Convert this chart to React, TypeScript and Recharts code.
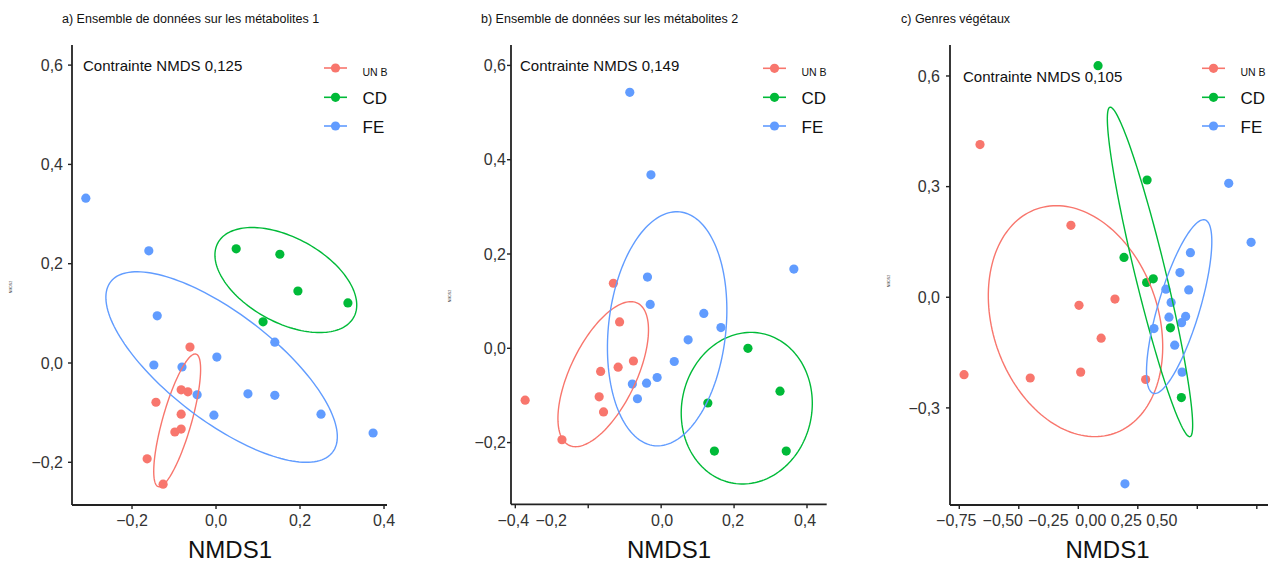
import React from 'react';
import { ScatterChart, Scatter, XAxis, YAxis } from 'recharts';

const FONT = '"Liberation Sans", Arial, Helvetica, sans-serif';
const RED = '#F8766D';
const GREEN = '#00BA38';
const BLUE = '#619CFF';
const AXIS = '#222222';

const groupNames = ['UN B', 'CD', 'FE'];
const groupColors = [RED, GREEN, BLUE];

// ---- Panel a: métabolites 1 ----
const aUNB = [[-0.062, 0.032], [-0.083, -0.054], [-0.067, -0.058], [-0.143, -0.079], [-0.083, -0.103], [-0.098, -0.139], [-0.083, -0.133], [-0.164, -0.193], [-0.126, -0.244]];
const aCD = [[0.048, 0.23], [0.152, 0.219], [0.195, 0.145], [0.314, 0.121], [0.112, 0.083]];
const aFE = [[-0.31, 0.332], [-0.16, 0.226], [-0.14, 0.095], [-0.148, -0.004], [-0.081, -0.008], [0.002, 0.012], [-0.045, -0.064], [-0.005, -0.105], [0.076, -0.062], [0.14, 0.042], [0.14, -0.065], [0.25, -0.103], [0.374, -0.141]];
// ellipse: [tip1 x, tip1 y, tip2 x, tip2 y, minor/major ratio]
const aEllUNB = [-0.0476, 0.018, -0.1374, -0.249, 0.21];
const aEllCD = [0.0045, 0.242, 0.328, 0.0922, 0.546];
const aEllFE = [-0.251, 0.1635, 0.2776, -0.1797, 0.384];
const aXTicks = [-0.2, 0, 0.2, 0.4];
const aYTicks = [-0.2, 0, 0.2, 0.4, 0.6];

// ---- Panel b: métabolites 2 ----
const bUNB = [[-0.131, 0.138], [-0.114, 0.056], [-0.076, -0.027], [-0.118, -0.04], [-0.166, -0.049], [-0.17, -0.103], [-0.158, -0.135], [-0.373, -0.11], [-0.272, -0.194]];
const bCD = [[0.238, 0.0], [0.326, -0.091], [0.128, -0.116], [0.146, -0.218], [0.343, -0.218]];
const bFE = [[-0.086, 0.543], [-0.028, 0.368], [0.364, 0.168], [-0.0375, 0.151], [-0.03, 0.093], [0.117, 0.074], [0.164, 0.044], [0.074, 0.018], [0.036, -0.028], [-0.011, -0.062], [-0.04, -0.074], [-0.079, -0.076], [-0.065, -0.107]];
const bEllUNB = [-0.0652, 0.0959, -0.2526, -0.2057, 0.418];
const bEllCD = [0.2778, 0.0312, 0.1918, -0.2853, 0.853];
const bEllFE = [0.0515, 0.2893, -0.0186, -0.2066, 0.499];
const bXTicks = [-0.4, -0.2, 0, 0.2, 0.4];
const bYTicks = [-0.2, 0, 0.2, 0.4, 0.6];

// ---- Panel c: genres végétaux ----
const cUNB = [[-0.663, 0.414], [-0.281, 0.195], [-0.247, -0.022], [-0.096, -0.005], [-0.154, -0.111], [-0.73, -0.21], [-0.452, -0.219], [-0.24, -0.203], [0.033, -0.223]];
const cCD = [[-0.167, 0.628], [0.039, 0.318], [-0.058, 0.108], [0.037, 0.04], [0.065, 0.05], [0.137, -0.083], [0.183, -0.272]];
const cFE = [[0.382, 0.309], [0.476, 0.149], [0.221, 0.121], [0.177, 0.067], [0.118, 0.022], [0.214, 0.02], [0.14, -0.014], [0.131, -0.054], [0.201, -0.052], [0.184, -0.069], [0.068, -0.085], [0.155, -0.13], [0.186, -0.203], [-0.054, -0.506]];
const cEllUNB = [-0.423, 0.2398, -0.1004, -0.3694, 0.697];
const cEllCD = [-0.1168, 0.5153, 0.2193, -0.378, 0.09];
const cEllFE = [0.2824, 0.2097, 0.0651, -0.2604, 0.23];
const cXTicks = [-0.75, -0.5, -0.25, 0, 0.25, 0.5];
const cYTicks = [-0.3, 0, 0.3, 0.6];

const titles = ['a) Ensemble de données sur les métabolites 1', 'b) Ensemble de données sur les métabolites 2', 'c) Genres végétaux'];
const stressLabels = ['Contrainte NMDS 0,125', 'Contrainte NMDS 0,149', 'Contrainte NMDS 0,105'];

const fmt = (digits: number) => (v: number) => {
  const s = Math.abs(v).toFixed(digits).replace('.', ',');
  return v < -1e-9 ? '\u2212' + s : s;
};

type Panel = {
  left: number; right: number; top: number; bottom: number; marginRight: number;
  xDomain: [number, number]; yDomain: [number, number];
  xTicks: number[]; yTicks: number[]; xDigits: number; yDigits: number;
  xShift: number[]; yTickMargin: number;
  groups: number[][][]; ellipses: number[][];
  title: string; titleX: number; stress: string; stressX: number; stressY: number;
  legendLineX: number; legendTextX: number; legendDotY: number[];
  xLabelX: number; yLabelY: number;
};

const panels: Panel[] = [
  {
    left: 72, right: 387, top: 45, bottom: 505, marginRight: 30,
    xDomain: [-0.3429, 0.4071], yDomain: [-0.286, 0.6405],
    xTicks: aXTicks, yTicks: aYTicks, xDigits: 1, yDigits: 1,
    xShift: [0, 0, 0, 0], yTickMargin: 5,
    groups: [aUNB, aCD, aFE], ellipses: [aEllUNB, aEllCD, aEllFE],
    title: titles[0], titleX: 62, stress: stressLabels[0], stressX: 83, stressY: 70.5,
    legendLineX: 324, legendTextX: 362.5, legendDotY: [68, 97.3, 126],
    xLabelX: 230, yLabelY: 287,
  },
  {
    left: 511, right: 826.7, top: 45, bottom: 504.3, marginRight: 20,
    xDomain: [-0.4118, 0.454], yDomain: [-0.3309, 0.6433],
    xTicks: bXTicks, yTicks: bYTicks, xDigits: 1, yDigits: 1,
    xShift: [-2, -37, 1, -1, -2], yTickMargin: 1,
    groups: [bUNB, bCD, bFE], ellipses: [bEllUNB, bEllCD, bEllFE],
    title: titles[1], titleX: 481, stress: stressLabels[1], stressX: 520, stressY: 70.5,
    legendLineX: 763, legendTextX: 801.5, legendDotY: [68.3, 97.3, 126],
    xLabelX: 669, yLabelY: 296,
  },
  {
    left: 950, right: 1268, top: 45, bottom: 505, marginRight: 1,
    xDomain: [-0.789, 0.547], yDomain: [-0.5633, 0.684],
    xTicks: cXTicks, yTicks: cYTicks, xDigits: 2, yDigits: 1,
    xShift: [-3, -16, -30, -47, -71, -95], yTickMargin: 6,
    groups: [cUNB, cCD, cFE], ellipses: [cEllUNB, cEllCD, cEllFE],
    title: titles[2], titleX: 901, stress: stressLabels[2], stressX: 963, stressY: 81.5,
    legendLineX: 1202, legendTextX: 1240.5, legendDotY: [68.3, 97.3, 126],
    xLabelX: 1107.5, yLabelY: 281,
  },
];

const Y_AXIS_W = 72;
const H = 562;

function ellipsePoints(e: number[], sx: number, sy: number) {
  const [x1, y1, x2, y2, r] = e;
  const X1 = x1 * sx, Y1 = y1 * sy, X2 = x2 * sx, Y2 = y2 * sy;
  const cX = (X1 + X2) / 2, cY = (Y1 + Y2) / 2;
  const ax = (X2 - X1) / 2, ay = (Y2 - Y1) / 2;
  const bx = -ay * r, by = ax * r;
  const pts: { x: number; y: number }[] = [];
  const n = 160;
  for (let i = 0; i <= n; i++) {
    const t = (2 * Math.PI * i) / n;
    const X = cX + ax * Math.cos(t) + bx * Math.sin(t);
    const Y = cY + ay * Math.cos(t) + by * Math.sin(t);
    pts.push({ x: X / sx, y: Y / sy });
  }
  return pts;
}

const Dot = (color: string) => (p: any) => <circle cx={p.cx} cy={p.cy} r={4.6} fill={color} />;
const NoShape = () => <g />;

function PanelChart({ p }: { p: Panel }) {
  const plotW = p.right - p.left;
  const plotH = p.bottom - p.top;
  const sx = plotW / (p.xDomain[1] - p.xDomain[0]);
  const sy = plotH / (p.yDomain[1] - p.yDomain[0]);
  const fx = fmt(p.xDigits);
  const fy = fmt(p.yDigits);
  const XTick = (props: any) => {
    const { x, y, payload, index } = props;
    return (
      <text x={x + (p.xShift[index] || 0)} y={y} dy="0.71em" textAnchor="middle" fontSize={16} fill="#333" fontFamily={FONT}>
        {fx(payload.value)}
      </text>
    );
  };
  const YTick = (props: any) => {
    const { x, y, payload } = props;
    return (
      <text x={x} y={y} dy="0.36em" textAnchor="end" fontSize={16} fill="#333" fontFamily={FONT}>
        {fy(payload.value)}
      </text>
    );
  };
  return (
    <div style={{ position: 'absolute', left: p.left - Y_AXIS_W, top: 0 }}>
      <ScatterChart width={Y_AXIS_W + plotW + p.marginRight} height={H} margin={{ top: p.top, right: p.marginRight, bottom: 0, left: 0 }}>
        <XAxis type="number" dataKey="x" domain={p.xDomain} ticks={p.xTicks} allowDataOverflow
          height={H - p.bottom} tickSize={4} tickMargin={6} tick={XTick as any}
          axisLine={{ stroke: AXIS, strokeWidth: 1.8 }} tickLine={{ stroke: AXIS, strokeWidth: 1.4 }} interval={0} />
        <YAxis type="number" dataKey="y" domain={p.yDomain} ticks={p.yTicks} allowDataOverflow
          width={Y_AXIS_W} tickSize={4} tickMargin={p.yTickMargin} tick={YTick as any}
          axisLine={{ stroke: AXIS, strokeWidth: 1.8 }} tickLine={{ stroke: AXIS, strokeWidth: 1.4 }} interval={0} />
        {p.groups.map((g, gi) => (
          <Scatter key={'pts' + gi} data={g.map(([x, y]) => ({ x, y }))} shape={Dot(groupColors[gi])} isAnimationActive={false} />
        ))}
        {p.ellipses.map((e, gi) => (
          <Scatter key={'ell' + gi} data={ellipsePoints(e, sx, sy)} shape={NoShape} line={{ stroke: groupColors[gi], strokeWidth: 1.4 }} lineType="joint" isAnimationActive={false} />
        ))}
      </ScatterChart>
    </div>
  );
}

function Overlay() {
  return (
    <svg width={1269} height={562} style={{ position: 'absolute', left: 0, top: 0, pointerEvents: 'none' }} fontFamily={FONT}>
      {panels.map((p, pi) => (
        <g key={pi}>
          <text x={p.titleX} y={23} fontSize={12.5} fill="#111">{p.title}</text>
          <text x={p.stressX} y={p.stressY} fontSize={15} fill="#111">{p.stress}</text>
          {groupNames.map((name, gi) => (
            <g key={gi}>
              <line x1={p.legendLineX} x2={p.legendLineX + 23} y1={p.legendDotY[gi]} y2={p.legendDotY[gi]} stroke={groupColors[gi]} strokeWidth={1.6} />
              <circle cx={p.legendLineX + 11.5} cy={p.legendDotY[gi]} r={4.6} fill={groupColors[gi]} />
              <text x={p.legendTextX} y={gi === 0 ? p.legendDotY[gi] + 7.5 : p.legendDotY[gi] + 6.5} fontSize={gi === 0 ? 10.5 : 17} fill="#111">{name}</text>
            </g>
          ))}
          <text x={p.xLabelX} y={558} fontSize={24} fill="#111" textAnchor="middle">NMDS1</text>
          <text transform={`translate(${p.left - 60},${p.yLabelY}) rotate(-90)`} fontSize={3.5} fill="#333" textAnchor="middle">NMDS2</text>
        </g>
      ))}
    </svg>
  );
}

export default function App() {
  return (
    <div style={{ position: 'absolute', left: 0, top: 0, width: 1269, height: 562, overflow: 'hidden', background: '#fff' }}>
      {panels.map((p, i) => (
        <PanelChart key={i} p={p} />
      ))}
      <Overlay />
    </div>
  );
}
